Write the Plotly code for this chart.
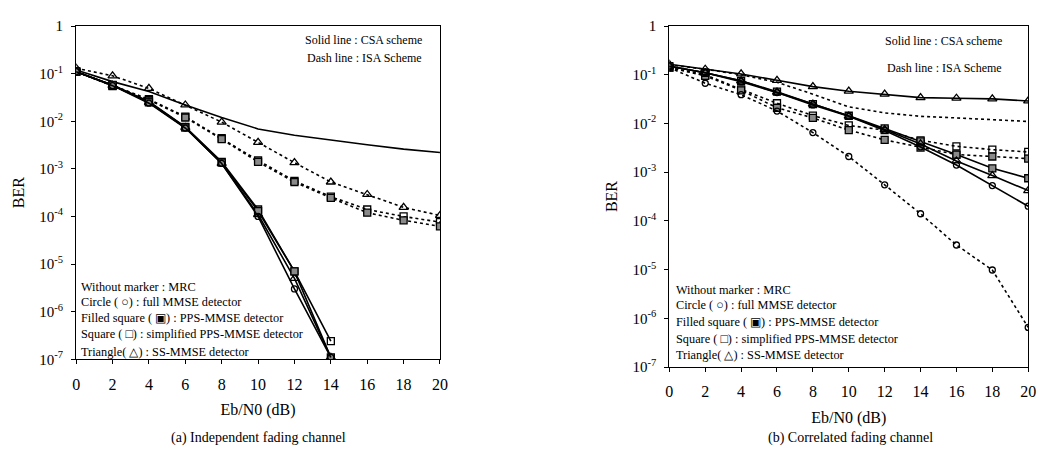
import plotly.graph_objects as go

# ---------------- data ----------------
ebn0 = [0, 2, 4, 6, 8, 10, 12, 14, 16, 18, 20]
ebn0_short = [0, 2, 4, 6, 8, 10, 12, 14]

# (a) Independent fading channel
a_mrc_csa = [0.12, 0.068, 0.042, 0.022, 0.012, 0.0069, 0.0051, 0.004, 0.0032, 0.0026, 0.0022]
a_tri_isa = [0.13, 0.09, 0.049, 0.022, 0.0096, 0.0036, 0.00135, 5.3e-4, 2.9e-4, 1.55e-4, 1.05e-4]
a_pps_isa = [0.11, 0.055, 0.028, 0.012, 0.0042, 0.0014, 5.3e-4, 2.45e-4, 1.2e-4, 8.3e-5, 6.2e-5]
a_simp_isa = [0.11, 0.056, 0.029, 0.0125, 0.0044, 0.0015, 5.6e-4, 2.6e-4, 1.4e-4, 1.0e-4, 7.6e-5]
a_circ_csa = [0.11, 0.056, 0.024, 0.0072, 0.0013, 1.0e-4, 3.0e-6, 1.1e-7]
a_pps_csa = [0.11, 0.057, 0.025, 0.0074, 0.00135, 1.3e-4, 7.0e-6, 1.1e-7]
a_simp_csa = [0.11, 0.058, 0.026, 0.0076, 0.0014, 1.4e-4, 7.0e-6, 2.4e-7]
a_tri_csa = [0.11, 0.057, 0.025, 0.0074, 0.0013, 1.1e-4, 5.0e-6, 1.1e-7]

# (b) Correlated fading channel
b_tri_top = [0.164, 0.13, 0.104, 0.077, 0.057, 0.046, 0.040, 0.034, 0.033, 0.032, 0.029]
b_mrc_isa = [0.16, 0.13, 0.1, 0.07, 0.04, 0.022, 0.0165, 0.014, 0.013, 0.0118, 0.011]
b_pps_csa = [0.15, 0.11, 0.075, 0.045, 0.025, 0.0144, 0.0079, 0.0043, 0.0023, 0.0012, 7.5e-4]
b_tri_csa = [0.15, 0.11, 0.075, 0.044, 0.025, 0.0142, 0.0075, 0.0038, 0.0017, 8.5e-4, 4.2e-4]
b_circ_csa = [0.15, 0.11, 0.072, 0.043, 0.024, 0.014, 0.0072, 0.0033, 0.0014, 5.3e-4, 2.0e-4]
b_simp_isa = [0.14, 0.1, 0.05, 0.026, 0.0145, 0.0091, 0.0073, 0.0045, 0.0034, 0.0029, 0.0026]
b_pps_isa = [0.14, 0.095, 0.048, 0.021, 0.013, 0.0073, 0.0046, 0.0032, 0.0023, 0.0021, 0.0019]
b_circ_isa = [0.14, 0.067, 0.039, 0.018, 0.0065, 0.0021, 5.5e-4, 1.4e-4, 3.2e-5, 9.8e-6, 6.5e-7]

x_ticks = [0, 2, 4, 6, 8, 10, 12, 14, 16, 18, 20]
y_tickvals = [1, 1e-1, 1e-2, 1e-3, 1e-4, 1e-5, 1e-6, 1e-7]
y_ticktext = ["1", "10<sup>-1</sup>", "10<sup>-2</sup>", "10<sup>-3</sup>",
              "10<sup>-4</sup>", "10<sup>-5</sup>", "10<sup>-6</sup>", "10<sup>-7</sup>"]

key_lines = ["Without marker : MRC",
             "Circle ( ○) : full MMSE detector",
             "Filled square ( ▣) : PPS-MMSE detector",
             "Square ( □) : simplified PPS-MMSE detector",
             "Triangle( △) : SS-MMSE detector"]

FONT = "Liberation Serif, Times New Roman, serif"

# ---------------- styles ----------------
SOLID = dict(color="black", width=1.6, dash="solid")
DOT = dict(color="black", width=1.6, dash="dot")

MK = {
    "none": None,
    "circle": dict(symbol="circle-open", size=6, color="black", line=dict(width=1.3, color="black")),
    "fsquare": dict(symbol="square", size=7, color="#8a8a8a", line=dict(width=1.3, color="black")),
    "square": dict(symbol="square-open", size=7, color="black", line=dict(width=1.3, color="black")),
    "tri": dict(symbol="triangle-up-open", size=8, color="black", line=dict(width=1.3, color="black")),
}

fig = go.Figure()

def add(x, y, line, mk, xa, ya, name):
    kw = dict(x=x, y=y, line=line, xaxis=xa, yaxis=ya, name=name, showlegend=False)
    if MK[mk] is None:
        kw["mode"] = "lines"
    else:
        kw["mode"] = "lines+markers"
        kw["marker"] = MK[mk]
    fig.add_trace(go.Scatter(**kw))

# (a)
add(ebn0, a_mrc_csa, SOLID, "none", "x", "y", "MRC CSA")
add(ebn0, a_tri_isa, DOT, "tri", "x", "y", "SS-MMSE ISA")
add(ebn0, a_simp_isa, DOT, "square", "x", "y", "simplified PPS-MMSE ISA")
add(ebn0, a_pps_isa, DOT, "fsquare", "x", "y", "PPS-MMSE ISA")
add(ebn0_short, a_tri_csa, SOLID, "tri", "x", "y", "SS-MMSE CSA")
add(ebn0_short, a_simp_csa, SOLID, "square", "x", "y", "simplified PPS-MMSE CSA")
add(ebn0_short, a_pps_csa, SOLID, "fsquare", "x", "y", "PPS-MMSE CSA")
add(ebn0_short, a_circ_csa, SOLID, "circle", "x", "y", "full MMSE CSA")

# (b)
add(ebn0, b_mrc_isa, DOT, "none", "x2", "y2", "MRC ISA")
add(ebn0, b_tri_top, SOLID, "tri", "x2", "y2", "SS-MMSE (top)")
add(ebn0, b_simp_isa, DOT, "square", "x2", "y2", "simplified PPS-MMSE ISA")
add(ebn0, b_pps_isa, DOT, "fsquare", "x2", "y2", "PPS-MMSE ISA")
add(ebn0, b_circ_isa, DOT, "circle", "x2", "y2", "full MMSE ISA")
add(ebn0, b_pps_csa, SOLID, "fsquare", "x2", "y2", "PPS-MMSE CSA")
add(ebn0, b_tri_csa, SOLID, "tri", "x2", "y2", "SS-MMSE CSA")
add(ebn0, b_circ_csa, SOLID, "circle", "x2", "y2", "full MMSE CSA")

W, H = 1054, 458
def px_x(p): return p / W
def px_y(p): return 1 - p / H

xcommon = dict(range=[0, 20], tickvals=x_ticks, ticks="outside", ticklen=4, tickwidth=1,
               tickcolor="black", showline=True, linecolor="black", linewidth=1.2, mirror=True,
               showgrid=False, zeroline=False, ticklabelstandoff=6,
               tickfont=dict(family=FONT, size=16, color="black"),
               title=dict(text="Eb/N0 (dB)", font=dict(family=FONT, size=16, color="black"), standoff=12))
ycommon = dict(type="log", range=[-7, 0], tickvals=y_tickvals, ticktext=y_ticktext,
               ticks="outside", ticklen=4, tickwidth=1, tickcolor="black",
               showline=True, linecolor="black", linewidth=1.2, mirror=True,
               showgrid=False, zeroline=False, ticklabelstandoff=5,
               tickfont=dict(family=FONT, size=15, color="black"),
               title=dict(text="BER", font=dict(family=FONT, size=16, color="black"), standoff=10))

fig.update_layout(
    width=W, height=H,
    margin=dict(l=0, r=0, t=0, b=0),
    paper_bgcolor="white", plot_bgcolor="white",
    font=dict(family=FONT, color="black"),
    xaxis=dict(xcommon, domain=[px_x(73), px_x(441)], anchor="y"),
    yaxis=dict(ycommon, domain=[px_y(364), px_y(18.7)], anchor="x"),
    xaxis2=dict(xcommon, domain=[px_x(673), px_x(1036)], anchor="y2"),
    yaxis2=dict(ycommon, domain=[px_y(372), px_y(18.7)], anchor="x2"),
)

anns = []
# scheme notes
for xr, ys in [(px_x(425), [33, 52]), (px_x(1012), [34, 62])]:
    anns.append(dict(x=xr, y=px_y(ys[0]), xref="paper", yref="paper", xanchor="right", yanchor="middle",
                     text="Solid line : CSA scheme", showarrow=False, font=dict(family=FONT, size=12)))
    anns.append(dict(x=xr, y=px_y(ys[1]), xref="paper", yref="paper", xanchor="right", yanchor="middle",
                     text="Dash line : ISA Scheme", showarrow=False, font=dict(family=FONT, size=12)))
# marker keys
for x0, ys in [(76, [289, 305, 321, 338, 356]), (678, [292, 308, 325, 343, 360])]:
    for t, yy in zip(key_lines, ys):
        anns.append(dict(x=px_x(x0), y=px_y(yy), xref="paper", yref="paper", xanchor="left",
                         yanchor="middle", text=t, showarrow=False, font=dict(family=FONT, size=12.3)))
# captions
anns.append(dict(x=px_x(257), y=px_y(446), xref="paper", yref="paper", xanchor="center", yanchor="middle",
                 text="(a) Independent fading channel", showarrow=False, font=dict(family=FONT, size=14)))
anns.append(dict(x=px_x(856), y=px_y(446), xref="paper", yref="paper", xanchor="center", yanchor="middle",
                 text="(b) Correlated fading channel", showarrow=False, font=dict(family=FONT, size=14)))
fig.update_layout(annotations=anns)

fig.write_html("out.html")
